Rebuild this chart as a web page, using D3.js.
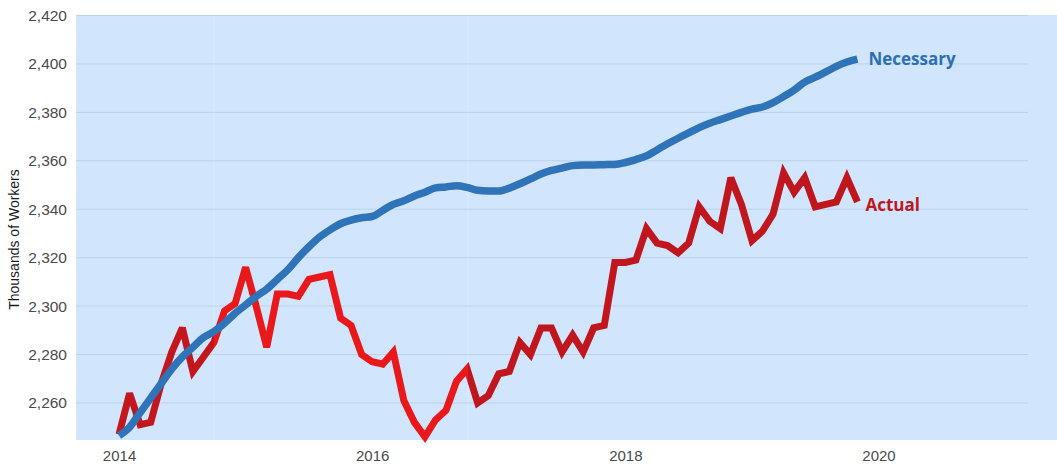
<!DOCTYPE html>
<html>
<head>
<meta charset="utf-8">
<script src="https://cdn.jsdelivr.net/npm/d3@7"></script>
<style>
  html, body { margin: 0; padding: 0; background: #ffffff; }
  svg { display: block; }
</style>
</head>
<body>
<svg id="chart" width="1057" height="471"></svg>
<script>
// ---- Data (monthly, Jan 2014 – Nov 2019), thousands of workers ----
const startYear = 2014;
const actual = [
  2247, 2264, 2251, 2252, 2268, 2281, 2291, 2273, 2279, 2285, 2298, 2301,
  2316, 2300, 2283, 2305, 2305, 2304, 2311, 2312, 2313, 2295, 2292, 2280,
  2277, 2276, 2281, 2261, 2252, 2246, 2253, 2257, 2269, 2274, 2260, 2263,
  2272, 2273, 2285, 2280, 2291, 2291, 2281, 2288, 2281, 2291, 2292, 2318,
  2318, 2319, 2332, 2326, 2325, 2322, 2326, 2341, 2335, 2332, 2353, 2342,
  2327, 2331, 2338, 2355, 2347, 2353, 2341, 2342, 2343, 2353, 2343
];
const necessary = [
  2246.5, 2250, 2256, 2262, 2268, 2274, 2279, 2283, 2287, 2289.5, 2293, 2297,
  2300.5, 2304, 2307, 2311, 2315, 2320, 2324.5, 2328.5, 2331.5, 2334, 2335.5, 2336.5,
  2337, 2339.5, 2342, 2343.5, 2345.5, 2347, 2348.8, 2349.2, 2349.7, 2349, 2347.8, 2347.5,
  2347.5, 2348.7, 2350.5, 2352.5, 2354.5, 2356, 2357, 2358, 2358.3, 2358.3, 2358.4, 2358.5,
  2359.3, 2360.5, 2362, 2364.5, 2367, 2369.3, 2371.5, 2373.7, 2375.5, 2377, 2378.5, 2380,
  2381.3, 2382.2, 2384, 2386.5, 2389.2, 2392.5, 2394.5, 2396.7, 2399, 2400.8, 2402
];
const yTicks = [2260, 2280, 2300, 2320, 2340, 2360, 2380, 2400, 2420];
const xTicks = [2014, 2016, 2018, 2020];
const seriesNames = ["Necessary", "Actual"];
const yTitle = "Thousands of Workers";

// ---- Layout ----
const svg = d3.select("#chart");
const plot = { left: 76, top: 15, right: 1057, bottom: 440, gridRight: 1028 };

const x = d3.scaleLinear().domain([2013.66, 2021.41]).range([plot.left, plot.right]);
const y = d3.scaleLinear().domain([2244.7, 2420.2]).range([plot.bottom, plot.top]);
const t = i => startYear + i / 12;

// background
svg.append("rect")
  .attr("x", plot.left).attr("y", plot.top)
  .attr("width", plot.right - plot.left).attr("height", plot.bottom - plot.top)
  .attr("fill", "#d1e6fc");

// faint vertical seams
[2014.75, 2016.76].forEach(v => {
  svg.append("line")
    .attr("x1", x(v)).attr("x2", x(v))
    .attr("y1", plot.top).attr("y2", plot.bottom)
    .attr("stroke", "#d8eafd").attr("stroke-width", 1.5);
});

// horizontal gridlines
svg.append("g").selectAll("line").data(yTicks).join("line")
  .attr("x1", plot.left).attr("x2", plot.gridRight)
  .attr("y1", d => y(d)).attr("y2", d => y(d))
  .attr("stroke", "#bcd2e8").attr("stroke-width", 1);

// y axis labels
const yAxis = d3.axisLeft(y).tickValues(yTicks).tickFormat(d3.format(",")).tickSize(0).tickPadding(9);
const gy = svg.append("g").attr("transform", `translate(${plot.left},0)`).call(yAxis);
gy.select(".domain").remove();
gy.selectAll("text").attr("font-family", "Liberation Sans, Arial, sans-serif")
  .attr("font-size", 15.5).attr("fill", "#4a4a4a");

// x axis labels
const xAxis = d3.axisBottom(x).tickValues(xTicks).tickFormat(d3.format("d")).tickSize(0).tickPadding(10);
const gx = svg.append("g").attr("transform", `translate(0,${plot.bottom})`).call(xAxis);
gx.select(".domain").remove();
gx.selectAll("text").attr("font-family", "Liberation Sans, Arial, sans-serif")
  .attr("font-size", 15).attr("fill", "#4a4a4a");

// y title
svg.append("text")
  .attr("transform", `translate(19,${(plot.top + plot.bottom) / 2 + 12}) rotate(-90)`)
  .attr("text-anchor", "middle")
  .attr("font-family", "Liberation Sans, Arial, sans-serif")
  .attr("font-size", 14).attr("fill", "#1a1a1a")
  .text(yTitle);

// red gradient (brighter in the middle segment)
const defs = svg.append("defs");
const grad = defs.append("linearGradient").attr("id", "redGrad")
  .attr("gradientUnits", "userSpaceOnUse")
  .attr("x1", plot.left).attr("x2", plot.right).attr("y1", 0).attr("y2", 0);
const f1 = (x(2014.75) - plot.left) / (plot.right - plot.left);
const f2 = (x(2016.76) - plot.left) / (plot.right - plot.left);
grad.append("stop").attr("offset", 0).attr("stop-color", "#c4161d");
grad.append("stop").attr("offset", f1).attr("stop-color", "#c4161d");
grad.append("stop").attr("offset", f1).attr("stop-color", "#e8181b");
grad.append("stop").attr("offset", f2).attr("stop-color", "#e8181b");
grad.append("stop").attr("offset", f2).attr("stop-color", "#c0161d");
grad.append("stop").attr("offset", 1).attr("stop-color", "#c0161d");

const line = d3.line().x((d, i) => x(t(i))).y(d => y(d));

svg.append("path").datum(actual)
  .attr("d", line).attr("fill", "none")
  .attr("stroke", "url(#redGrad)").attr("stroke-width", 7)
  .attr("stroke-linejoin", "miter").attr("stroke-miterlimit", 3);

svg.append("path").datum(necessary)
  .attr("d", line.curve(d3.curveMonotoneX)).attr("fill", "none")
  .attr("stroke", "#2f74b8").attr("stroke-width", 7.5)
  .attr("stroke-linejoin", "round");

// end labels
const lastI = necessary.length - 1;
svg.append("text")
  .attr("x", x(t(lastI)) + 11).attr("y", y(necessary[lastI]) + 1)
  .attr("dominant-baseline", "middle")
  .attr("font-family", "Open Sans, sans-serif").attr("font-weight", "bold")
  .attr("font-size", 17).attr("fill", "#2e6fb3")
  .text(seriesNames[0]);

const lastA = actual.length - 1;
svg.append("text")
  .attr("x", x(t(lastA)) + 8).attr("y", y(actual[lastA]) + 5)
  .attr("dominant-baseline", "middle")
  .attr("font-family", "Open Sans, sans-serif").attr("font-weight", "bold")
  .attr("font-size", 17).attr("fill", "#c0171e")
  .text(seriesNames[1]);
</script>
</body>
</html>
